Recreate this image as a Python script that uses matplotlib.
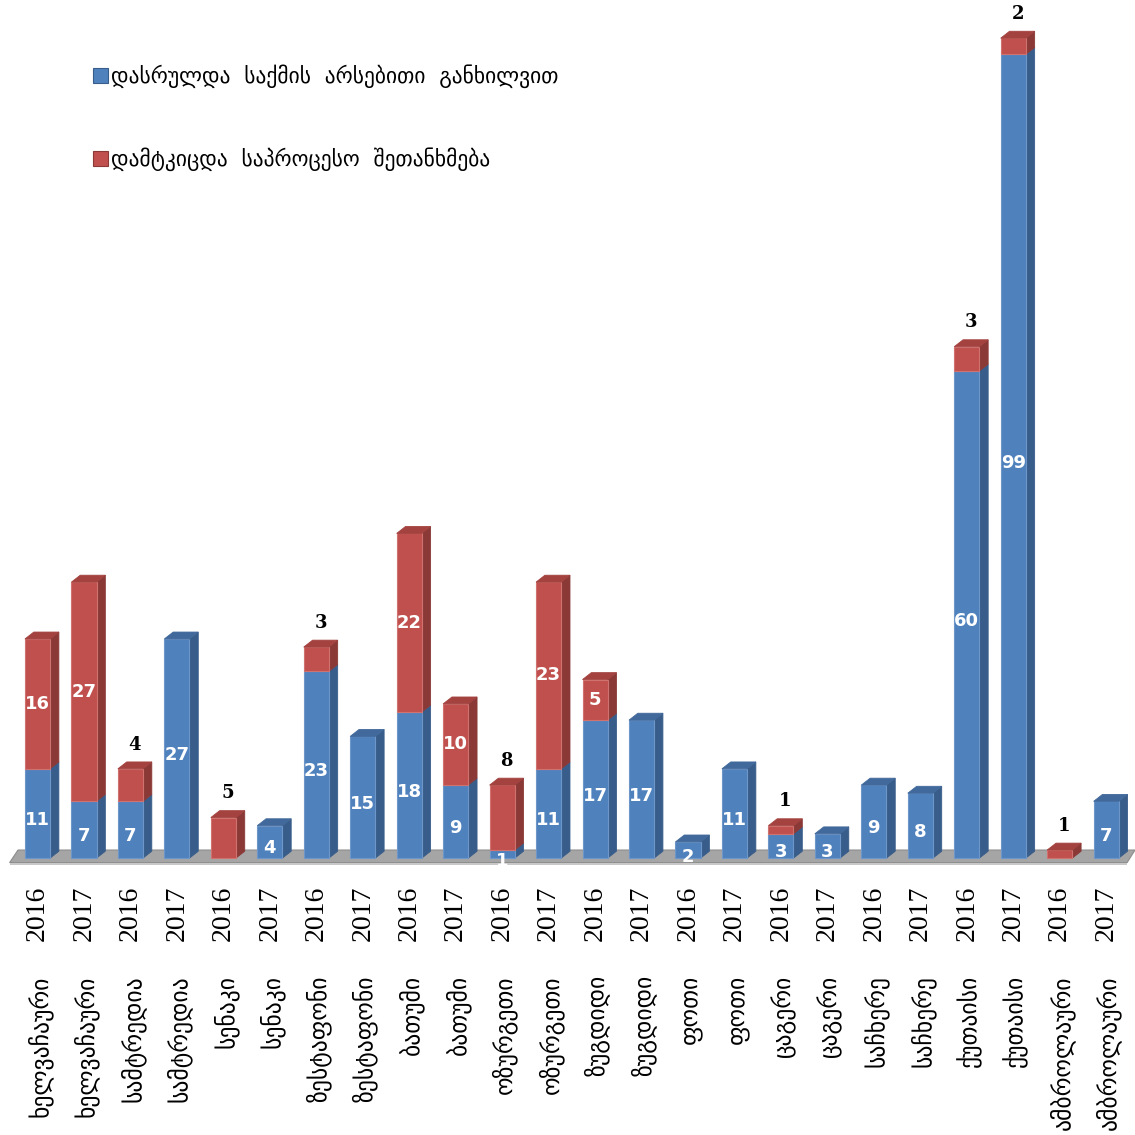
import matplotlib
matplotlib.use("Agg")
import matplotlib.pyplot as plt
from matplotlib.patches import Polygon, Rectangle, Patch
from matplotlib.transforms import offset_copy

# ---- data -------------------------------------------------------------
regions = ["ხელვაჩაური", "ხელვაჩაური", "სამტრედია", "სამტრედია",
           "სენაკი", "სენაკი", "ზესტაფონი", "ზესტაფონი",
           "ბათუმი", "ბათუმი", "ოზურგეთი", "ოზურგეთი",
           "ზუგდიდი", "ზუგდიდი", "ფოთი", "ფოთი",
           "ცაგერი", "ცაგერი", "საჩხერე", "საჩხერე",
           "ქუთაისი", "ქუთაისი", "ამბროლაური", "ამბროლაური"]
years = ["2016", "2017"] * 12
merits = [11, 7, 7, 27, 0, 4, 23, 15, 18, 9, 1, 11,
          17, 17, 2, 11, 3, 3, 9, 8, 60, 99, 0, 7]
plea = [16, 27, 4, 0, 5, 0, 3, 0, 22, 10, 8, 23,
        5, 0, 0, 0, 1, 0, 0, 0, 3, 2, 1, 0]
# bars whose plea-agreement count is printed above the column
plea_label_above = {2, 4, 6, 10, 16, 20, 21, 22}

series_names = ["დასრულდა  საქმის  არსებითი  განხილვით",
                "დამტკიცდა  საპროცესო  შეთანხმება"]

# ---- style ------------------------------------------------------------
W, H, DPI = 1135, 1135, 100
BLUE = ("#4F81BD", "#385D8A", "#41699B")   # front, side, top
RED = ("#C0504D", "#8A3936", "#A3423F")
BAR_W = 0.54
DX, DY = 0.19, 0.85           # depth of the pseudo-3D extrusion (data units)
GEO = ["DejaVu Sans"]

fig = plt.figure(figsize=(W / DPI, H / DPI), dpi=DPI)
ax = fig.add_axes([0, 0, 1, 1])
ax.set_xlim(-0.807, 23.62)
ax.set_ylim(-34.1, 105.7)
ax.axis("off")


def box(x, y0, h, colors, top=True):
    front, side, cap = colors
    l, r = x - BAR_W / 2, x + BAR_W / 2
    ax.add_patch(Polygon([(r, y0), (r + DX, y0 + DY), (r + DX, y0 + h + DY), (r, y0 + h)],
                         closed=True, fc=side, ec=side, lw=0.6, zorder=3))
    ax.add_patch(Rectangle((l, y0), BAR_W, h, fc=front, ec="#6E96C8" if front == BLUE[0] else "#D07370",
                           lw=0.8, zorder=4))
    if top:
        ax.add_patch(Polygon([(l, y0 + h), (r, y0 + h), (r + DX, y0 + h + DY), (l + DX, y0 + h + DY)],
                             closed=True, fc=cap, ec=cap, lw=0.6, zorder=5))


# floor
n = len(merits)
ax.add_patch(Polygon([(-0.60, -0.55), (n - 1 + 0.45, -0.55), (n - 1 + 0.62, 1.0), (-0.42, 1.0)],
                     closed=True, fc="#A5A5A5", ec="#8C8C8C", lw=0.8, zorder=1))
ax.add_patch(Polygon([(-0.60, -0.55), (n - 1 + 0.45, -0.55), (n - 1 + 0.45, -0.85), (-0.60, -0.85)],
                     closed=True, fc="#C8C8C8", ec="none", zorder=1))

lab_kw = dict(color="white", fontsize=13, fontweight="bold", family="DejaVu Sans",
              ha="center", va="center", zorder=8)
for i, (b, r) in enumerate(zip(merits, plea)):
    if b > 0:
        box(i, 0, b, BLUE, top=(r == 0))
        ax.text(i, b / 2 - 0.8, str(b), **lab_kw)
    if r > 0:
        box(i, b, r, RED, top=True)
        if i in plea_label_above:
            ax.annotate(str(r), (i + DX / 2, b + r + DY), xytext=(0, 6), textcoords="offset points",
                        ha="center", va="bottom", fontsize=13, fontweight="bold",
                        family="DejaVu Serif", color="black", zorder=8)
        else:
            ax.text(i, b + r / 2, str(r), **lab_kw)

# category labels under the floor
for i, (yr, reg) in enumerate(zip(years, regions)):
    t1 = offset_copy(ax.transData, fig=fig, x=0, y=-27, units="dots")
    ax.text(i, 0, yr, transform=t1, rotation=90, ha="center", va="top",
            fontsize=20, family=["Liberation Serif", "DejaVu Serif"], color="black")
    t2 = offset_copy(ax.transData, fig=fig, x=2, y=-117, units="dots")
    ax.text(i, 0, reg, transform=t2, rotation=90, ha="center", va="top",
            fontsize=17, family=GEO, color="black")

handles = [Patch(fc=BLUE[0], ec="#385D8A", lw=0.8), Patch(fc=RED[0], ec="#8A3936", lw=0.8)]
ax.legend(handles, series_names, loc="upper left", bbox_to_anchor=(84 / W, 1 - 56 / H),
          frameon=False, prop={"family": GEO, "size": 15.5}, handlelength=0.7,
          handleheight=0.7, handletextpad=0.15, labelspacing=2.75, borderaxespad=0)

fig.savefig("out.png", dpi=DPI, facecolor="white")
